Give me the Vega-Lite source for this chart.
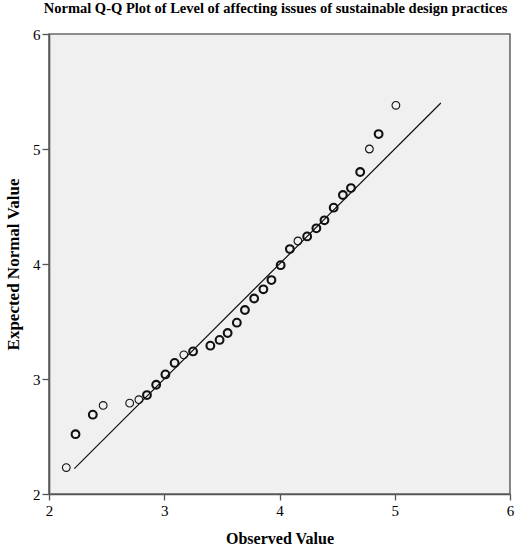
{
  "$schema": "https://vega.github.io/schema/vega-lite/v6.json",
  "autosize": "none",
  "width": 461,
  "height": 460,
  "padding": {"left": 49, "top": 34, "right": 14, "bottom": 56},
  "background": "white",
  "title": {
    "text": "Normal Q-Q Plot of Level of affecting issues of sustainable design practices",
    "font": "Liberation Serif",
    "fontSize": 14.5,
    "fontWeight": "bold",
    "color": "#000000",
    "offset": 11,
    "anchor": "middle",
    "dx": -4
  },
  "config": {
    "view": {"stroke": "#6a6a6a", "strokeWidth": 1.6, "fill": "#f0f0f0"},
    "axis": {
      "labelFont": "Liberation Serif",
      "labelFontSize": 15,
      "labelColor": "#000000",
      "titleFont": "Liberation Serif",
      "titleFontWeight": "bold",
      "titleColor": "#000000",
      "domainColor": "#555555",
      "domainWidth": 1.6,
      "tickColor": "#555555",
      "tickWidth": 1.3,
      "grid": false
    }
  },
  "datasets": {
    "points": [
      {"observed": 2.15, "expected": 2.23, "cases": 1},
      {"observed": 2.23, "expected": 2.52, "cases": 2},
      {"observed": 2.38, "expected": 2.69, "cases": 2},
      {"observed": 2.47, "expected": 2.77, "cases": 1},
      {"observed": 2.70, "expected": 2.79, "cases": 1},
      {"observed": 2.78, "expected": 2.82, "cases": 1},
      {"observed": 2.85, "expected": 2.86, "cases": 2},
      {"observed": 2.93, "expected": 2.95, "cases": 2},
      {"observed": 3.01, "expected": 3.04, "cases": 2},
      {"observed": 3.09, "expected": 3.14, "cases": 2},
      {"observed": 3.17, "expected": 3.21, "cases": 1},
      {"observed": 3.25, "expected": 3.24, "cases": 2},
      {"observed": 3.40, "expected": 3.29, "cases": 2},
      {"observed": 3.48, "expected": 3.34, "cases": 2},
      {"observed": 3.55, "expected": 3.40, "cases": 2},
      {"observed": 3.63, "expected": 3.49, "cases": 2},
      {"observed": 3.70, "expected": 3.60, "cases": 2},
      {"observed": 3.78, "expected": 3.70, "cases": 2},
      {"observed": 3.86, "expected": 3.78, "cases": 2},
      {"observed": 3.93, "expected": 3.86, "cases": 2},
      {"observed": 4.01, "expected": 3.99, "cases": 2},
      {"observed": 4.09, "expected": 4.13, "cases": 2},
      {"observed": 4.16, "expected": 4.20, "cases": 1},
      {"observed": 4.24, "expected": 4.24, "cases": 2},
      {"observed": 4.32, "expected": 4.31, "cases": 2},
      {"observed": 4.39, "expected": 4.38, "cases": 2},
      {"observed": 4.47, "expected": 4.49, "cases": 2},
      {"observed": 4.55, "expected": 4.60, "cases": 2},
      {"observed": 4.62, "expected": 4.66, "cases": 2},
      {"observed": 4.70, "expected": 4.80, "cases": 2},
      {"observed": 4.78, "expected": 5.00, "cases": 1},
      {"observed": 4.86, "expected": 5.13, "cases": 2},
      {"observed": 5.01, "expected": 5.38, "cases": 1}
    ],
    "refline": [
      {"observed": 2.22, "expected": 2.22},
      {"observed": 5.40, "expected": 5.40}
    ]
  },
  "layer": [
    {
      "data": {"name": "refline"},
      "mark": {"type": "line", "color": "#111111", "strokeWidth": 1.2},
      "encoding": {
        "x": {"field": "observed", "type": "quantitative"},
        "y": {"field": "expected", "type": "quantitative"}
      }
    },
    {
      "data": {"name": "points"},
      "mark": {"type": "point", "shape": "circle", "filled": false, "size": 60, "color": "#111111", "opacity": 1},
      "encoding": {
        "x": {
          "field": "observed",
          "type": "quantitative",
          "scale": {"domain": [2, 6], "nice": false, "zero": false},
          "axis": {"values": [2, 3, 4, 5, 6], "format": "d", "title": "Observed Value", "titleFontSize": 16, "tickSize": 6, "labelPadding": 3, "titlePadding": 12, "labelFlush": false}
        },
        "y": {
          "field": "expected",
          "type": "quantitative",
          "scale": {"domain": [2, 6], "nice": false, "zero": false},
          "axis": {"values": [2, 3, 4, 5, 6], "format": "d", "title": "Expected Normal Value", "titleFontSize": 17, "tickSize": 7, "labelPadding": 2, "titlePadding": 10, "labelFlush": false}
        },
        "strokeWidth": {
          "field": "cases",
          "type": "quantitative",
          "scale": {"domain": [1, 2], "range": [1.1, 2.1]},
          "legend": null
        }
      }
    }
  ]
}
